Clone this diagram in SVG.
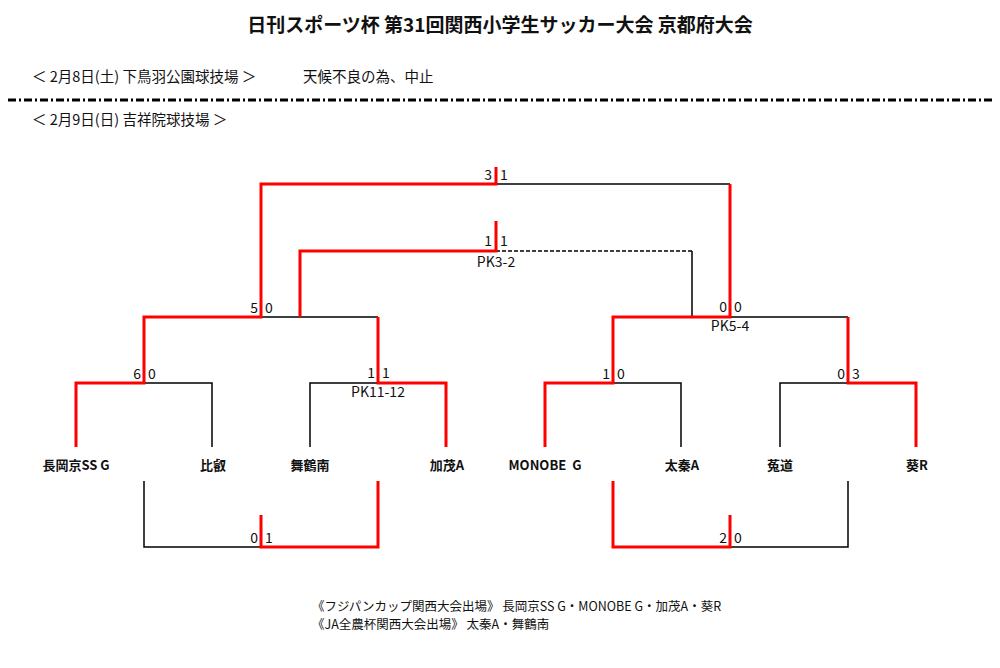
<svg xmlns="http://www.w3.org/2000/svg" width="1000" height="668" viewBox="0 0 1000 668">
<style>
text{font-family:"Noto Sans CJK JP","Noto Sans",sans-serif;fill:#111}
.t{font-size:14.5px}
.s{font-size:14px}
.n{font-size:13px;font-weight:bold;text-anchor:middle}
.b{fill:none;stroke:#000;stroke-width:1.5}
.r{fill:none;stroke:#f00;stroke-width:3}
</style>
<rect width="1000" height="668" fill="#fff"/>
<text x="500" y="32" font-size="19" font-weight="bold" text-anchor="middle">日刊スポーツ杯 第31回関西小学生サッカー大会 京都府大会</text>
<text class="t" x="32" y="82">＜ 2月8日(土) 下鳥羽公園球技場 ＞</text>
<text class="t" x="303" y="82">天候不良の為、中止</text>
<line x1="8" y1="100" x2="992" y2="100" stroke="#000" stroke-width="3" stroke-dasharray="8,3,2,3"/>
<text class="t" x="32" y="125">＜ 2月9日(日) 吉祥院球技場 ＞</text>
<g id="connectors">
<path class="b" d="M144 383H212V447M310 447V383H378M613 383H681V447M780 447V383H848M261 317H378M730 317H848M496 184H730M144 481V547H261M730 547H848V481"/>
<path class="b" d="M692 317V251"/>
<path fill="none" stroke="#000" stroke-width="1.5" stroke-dasharray="4,2" d="M496 251H692"/>
<path class="r" d="M76 447V383H144V317H261V184H496V167M446 447V383H378V317M545 447V383H613V317H730V184M916 447V383H848V317M300 317V251H496V221M613 481V547H730V515M261 515V547H378V481"/>
</g>
<g id="scores" class="s">
<text x="492" y="180" text-anchor="end">3</text><text x="500" y="180">1</text>
<text x="492" y="246" text-anchor="end">1</text><text x="500" y="246">1</text>
<text x="496" y="267" text-anchor="middle">PK3-2</text>
<text x="258" y="313" text-anchor="end">5</text><text x="265" y="313">0</text>
<text x="727" y="312" text-anchor="end">0</text><text x="734" y="312">0</text>
<text x="730" y="331" text-anchor="middle">PK5-4</text>
<text x="141" y="379" text-anchor="end">6</text><text x="148" y="379">0</text>
<text x="375" y="378" text-anchor="end">1</text><text x="382" y="378">1</text>
<text x="378" y="397" text-anchor="middle">PK11-12</text>
<text x="610" y="379" text-anchor="end">1</text><text x="617" y="379">0</text>
<text x="845" y="379" text-anchor="end">0</text><text x="852" y="379">3</text>
<text x="258" y="543" text-anchor="end">0</text><text x="265" y="543">1</text>
<text x="727" y="543" text-anchor="end">2</text><text x="734" y="543">0</text>
</g>
<g id="n1"><text class="n" x="76" y="470">長岡京SS G</text></g>
<g id="n2"><text class="n" x="213" y="470">比叡</text></g>
<g id="n3"><text class="n" x="310" y="470">舞鶴南</text></g>
<g id="n4"><text class="n" x="447" y="470">加茂A</text></g>
<g id="n5"><text class="n" x="545" y="470">MONOBE&#160;&#160;G</text></g>
<g id="n6"><text class="n" x="682" y="470">太秦A</text></g>
<g id="n7"><text class="n" x="780" y="470">菟道</text></g>
<g id="n8"><text class="n" x="917" y="470">葵R</text></g>
<text x="312" y="611" font-size="12.5">《フジパンカップ関西大会出場》 長岡京SS G・MONOBE G・加茂A・葵R</text>
<text x="312" y="629" font-size="12.5">《JA全農杯関西大会出場》 太秦A・舞鶴南</text>
</svg>
